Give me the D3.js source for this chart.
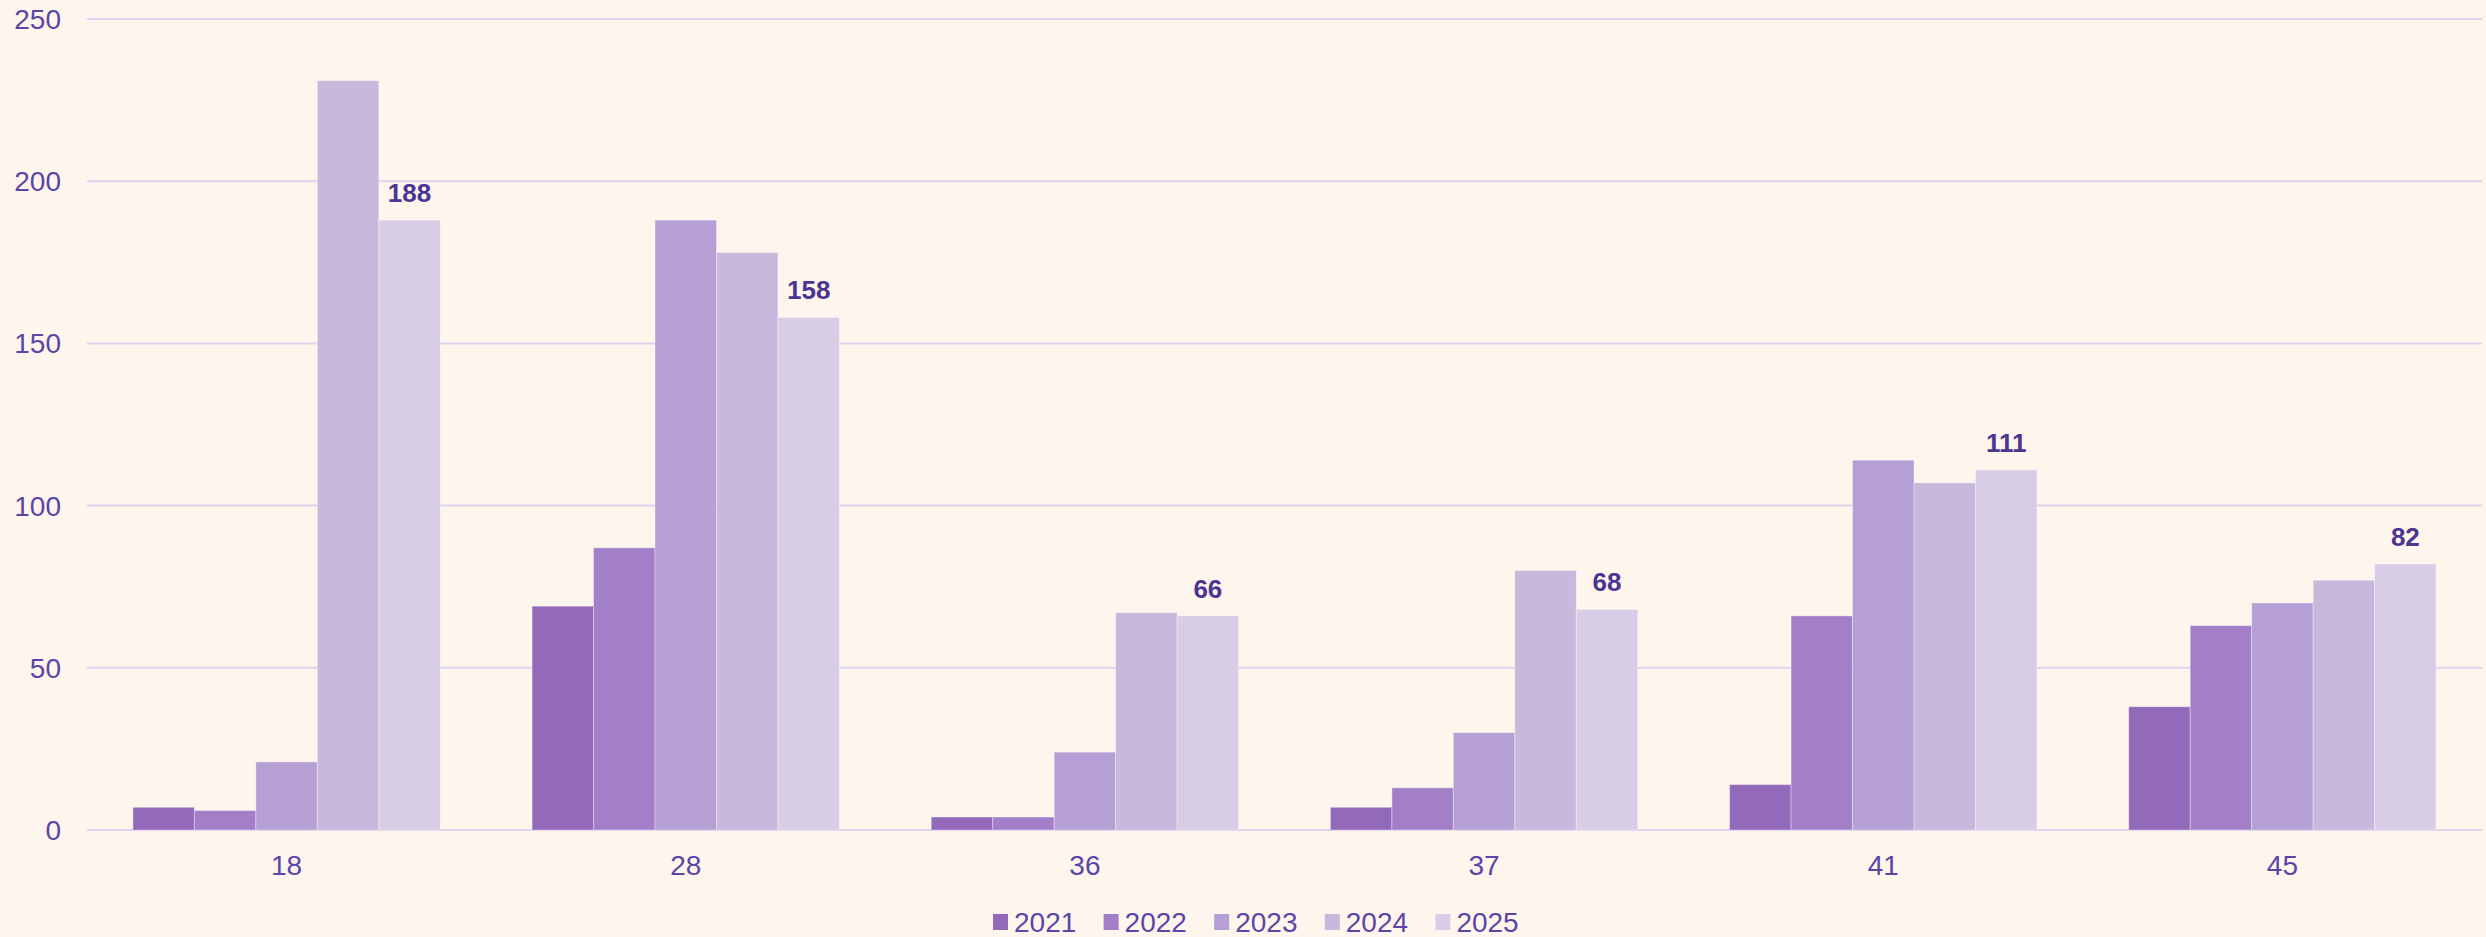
<!DOCTYPE html>
<html>
<head>
<meta charset="utf-8">
<script src="https://cdn.jsdelivr.net/npm/d3@7"></script>
<style>
  html, body { margin: 0; padding: 0; background: #fef6ec; }
  svg { display: block; font-family: "Liberation Sans", Arial, sans-serif; }
</style>
</head>
<body>
<svg></svg>
<script>
var width = 2486;
var height = 937;

// data
var categories = ["18", "28", "36", "37", "41", "45"];
var years = ["2021", "2022", "2023", "2024", "2025"];
var v2021 = [7, 69, 4, 7, 14, 38];
var v2022 = [6, 87, 4, 13, 66, 63];
var v2023 = [21, 188, 24, 30, 114, 70];
var v2024 = [231, 178, 67, 80, 107, 77];
var v2025 = [188, 158, 66, 68, 111, 82];
var yTicks = [0, 50, 100, 150, 200, 250];

var series = [v2021, v2022, v2023, v2024, v2025];
var colors = ["#9369ba", "#a27fc8", "#b59fd4", "#c7b8dc", "#d8cde6"];

var margin = {top: 19, right: 4, bottom: 107, left: 87};

var svg = d3.select("svg")
    .attr("width", width)
    .attr("height", height);

svg.append("rect")
    .attr("width", width)
    .attr("height", height)
    .attr("fill", "#fef6ec");

var x0 = d3.scaleBand()
    .domain(categories)
    .range([margin.left, width - margin.right])
    .paddingInner(0.23)
    .paddingOuter(0.115);

var x1 = d3.scaleBand()
    .domain(years)
    .range([0, x0.bandwidth()]);

var y = d3.scaleLinear()
    .domain([0, 250])
    .range([height - margin.bottom, margin.top]);

var color = d3.scaleOrdinal().domain(years).range(colors);

// grid lines
svg.append("g")
    .selectAll("line")
    .data(yTicks)
    .join("line")
        .attr("x1", margin.left)
        .attr("x2", width - margin.right)
        .attr("y1", d => y(d))
        .attr("y2", d => y(d))
        .attr("stroke", "#ddd3ef")
        .attr("stroke-width", 2);

// y labels
svg.append("g")
    .selectAll("text")
    .data(yTicks)
    .join("text")
        .attr("x", 61)
        .attr("y", d => y(d) + 10)
        .attr("text-anchor", "end")
        .attr("font-size", 28)
        .attr("fill", "#5b45a8")
        .text(d => d);

var rows = categories.map((c, i) => ({
    cat: c,
    vals: years.map((yr, j) => ({year: yr, value: series[j][i]}))
}));

var groups = svg.append("g")
    .selectAll("g")
    .data(rows)
    .join("g")
        .attr("transform", d => `translate(${x0(d.cat)},0)`);

groups.selectAll("rect")
    .data(d => d.vals)
    .join("rect")
        .attr("x", d => x1(d.year))
        .attr("y", d => y(d.value))
        .attr("width", x1.bandwidth())
        .attr("height", d => y(0) - y(d.value))
        .attr("fill", d => color(d.year))
        .attr("stroke", "rgba(255,255,255,0.35)")
        .attr("stroke-width", 1);

// value label on the last year's bar
groups.append("text")
    .attr("x", x1("2025") + x1.bandwidth() / 2)
    .attr("y", d => y(d.vals[4].value) - 18)
    .attr("text-anchor", "middle")
    .attr("font-size", 26)
    .attr("font-weight", "bold")
    .attr("fill", "#4b3593")
    .text(d => d.vals[4].value);

// category labels
svg.append("g")
    .selectAll("text")
    .data(categories)
    .join("text")
        .attr("x", d => x0(d) + x0.bandwidth() / 2)
        .attr("y", y(0) + 45)
        .attr("text-anchor", "middle")
        .attr("font-size", 28)
        .attr("fill", "#5b45a8")
        .text(d => d);

// legend
var legend = svg.append("g")
    .attr("transform", `translate(993, 922)`);

var item = legend.selectAll("g")
    .data(years)
    .join("g")
        .attr("transform", (d, i) => `translate(${i * 110.6},0)`);

item.append("rect")
    .attr("x", 0)
    .attr("y", -8)
    .attr("width", 15)
    .attr("height", 16)
    .attr("fill", d => color(d));

item.append("text")
    .attr("x", 21)
    .attr("y", 10)
    .attr("font-size", 28)
    .attr("fill", "#5b45a8")
    .text(d => d);
</script>
</body>
</html>
